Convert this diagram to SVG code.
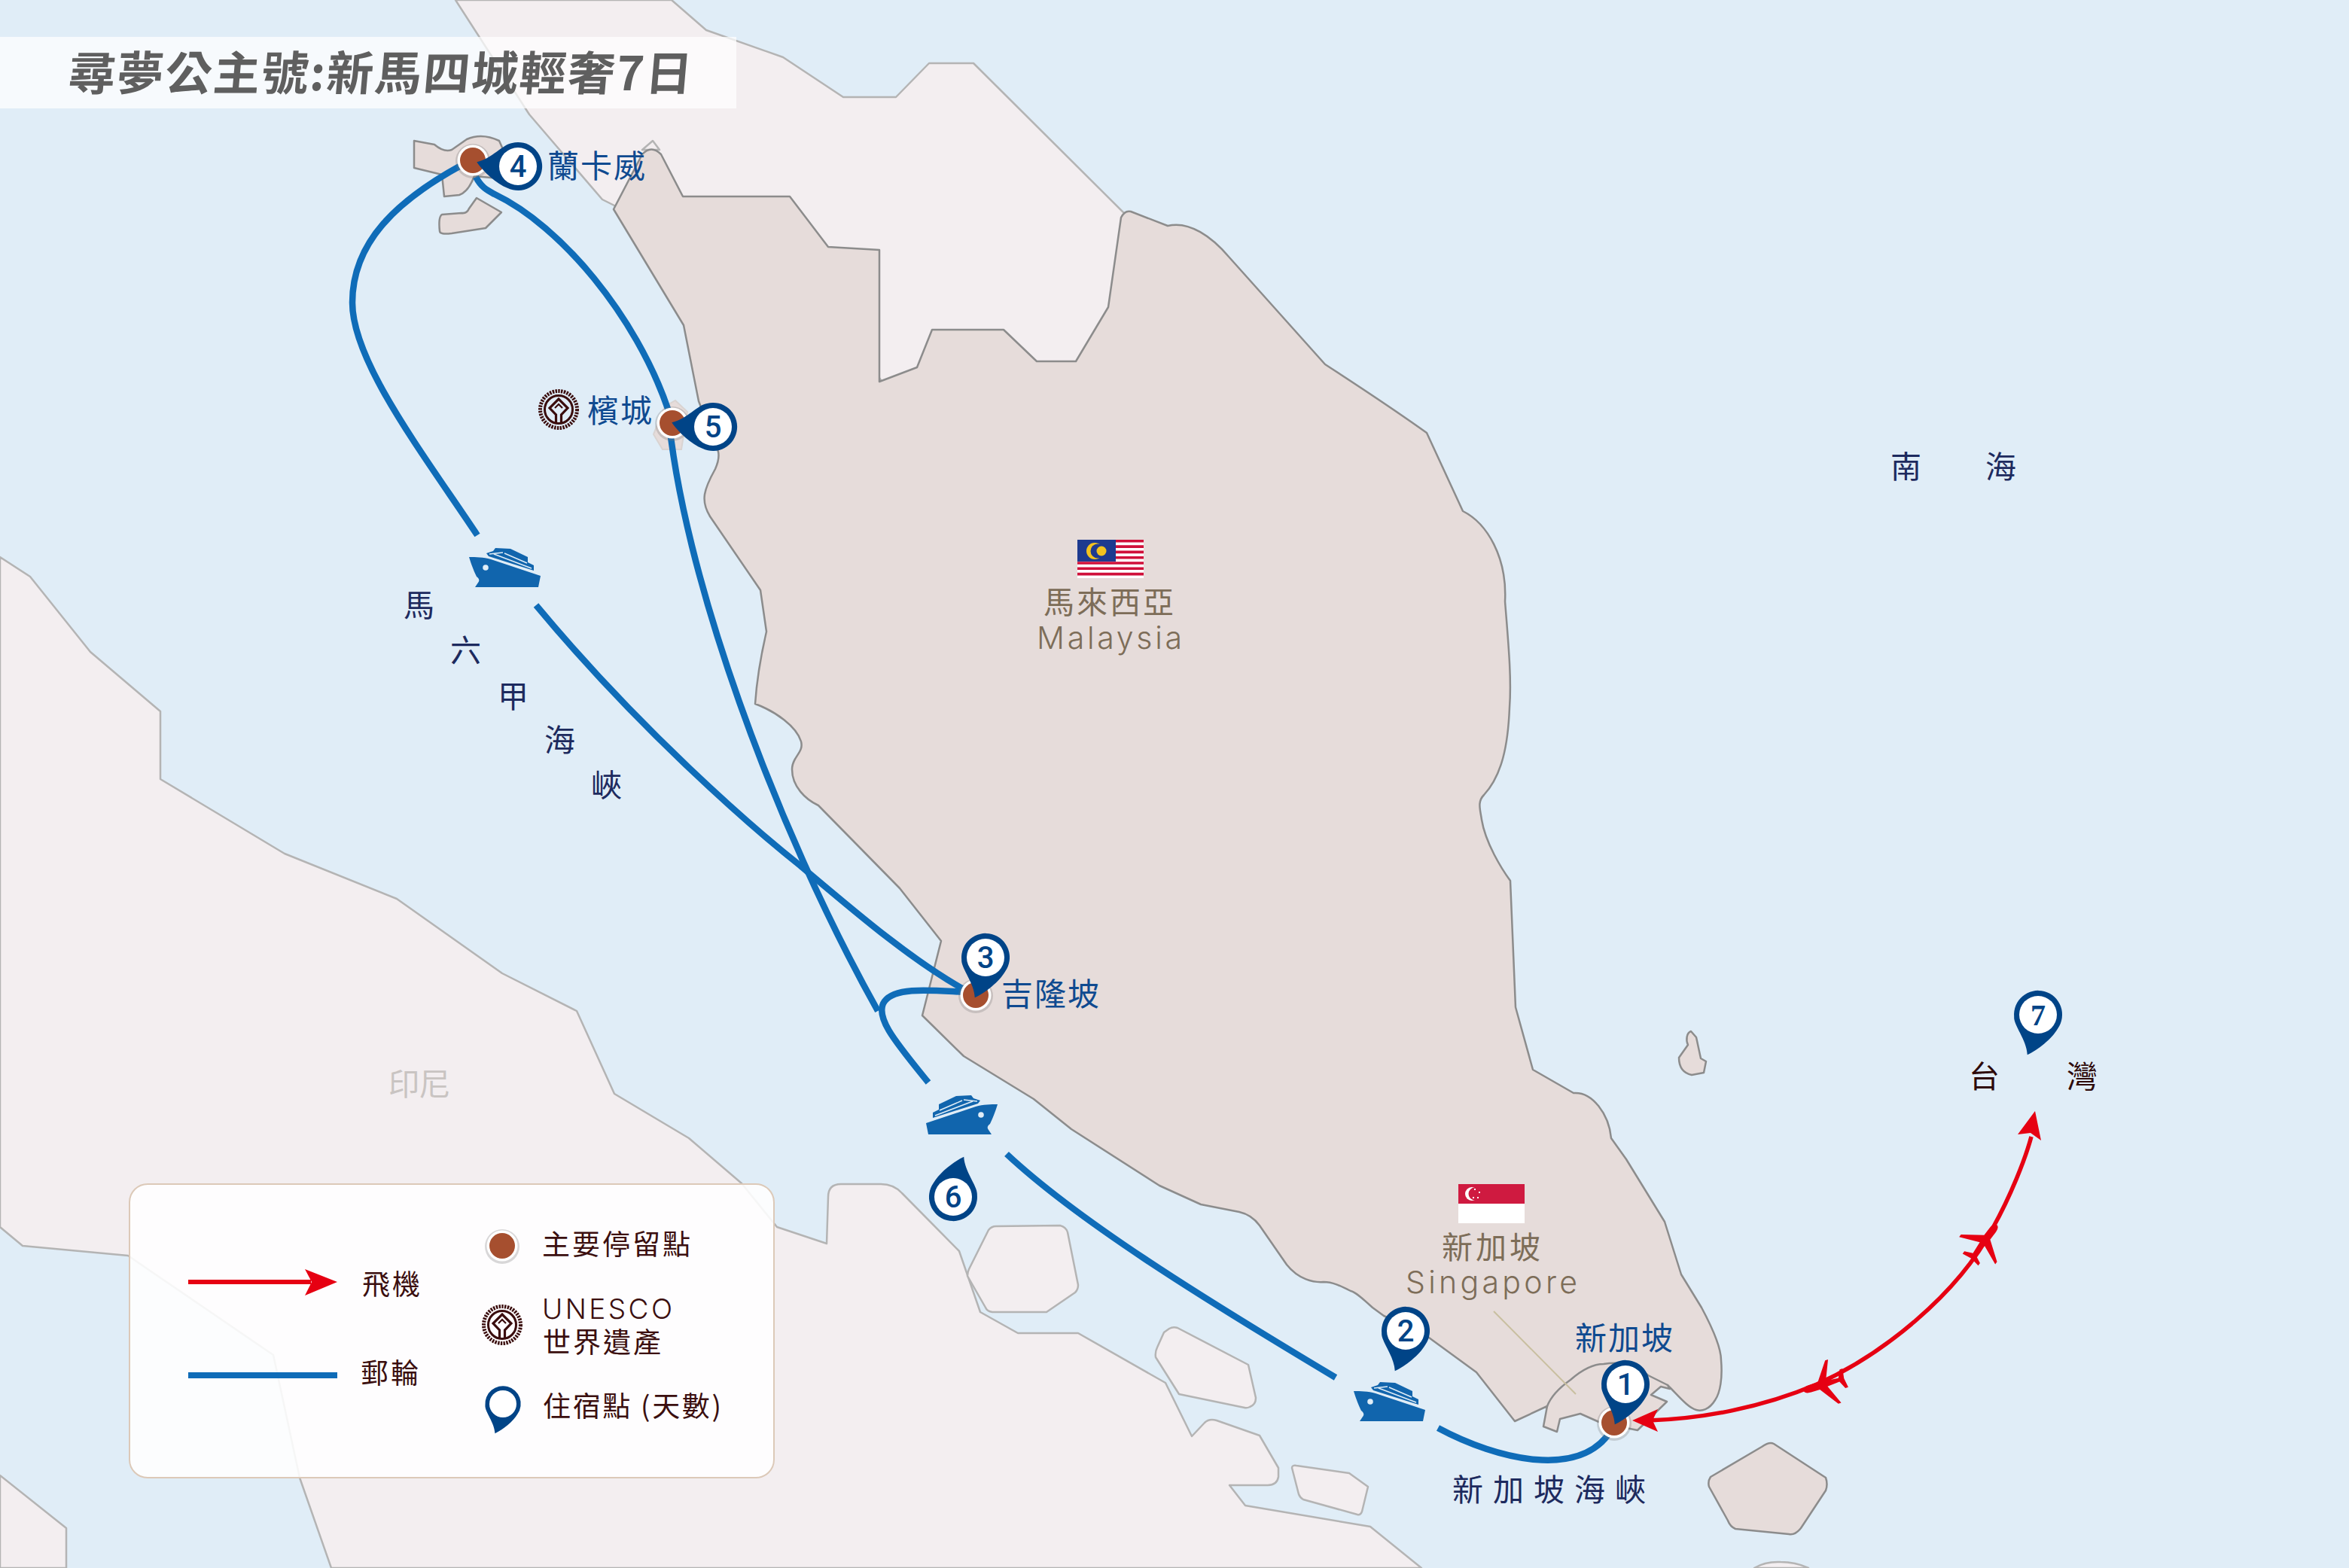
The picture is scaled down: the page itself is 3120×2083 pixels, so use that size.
<svg xmlns="http://www.w3.org/2000/svg" width="3120" height="2083" viewBox="0 0 3120 2083">
<style>
text{font-family:"Noto Sans CJK TC","Noto Sans",sans-serif}
.land{fill:#f3eef0;stroke:#b4b4b4;stroke-width:2.5;stroke-linejoin:round}
.main{fill:#e6dcda;stroke:#8c8c8c;stroke-width:2.5;stroke-linejoin:round}
.route{fill:none;stroke:#0f6cb8;stroke-width:8.5}
.air{fill:none;stroke:#e60012;stroke-width:5.5}
.red{fill:#e60012}
.city{fill:#0f4a90;font-size:42px;letter-spacing:2px}
.sea{fill:#1d2a5e;font-size:41px}
.nation{fill:#7d6d58;font-size:41px}
.latin{font-family:"Inter","Noto Sans",sans-serif;font-weight:300}
.leg{fill:#3b0f0f;font-size:37px;letter-spacing:3px}
.num{fill:#004487;font-family:"Roboto","Liberation Sans",sans-serif;font-size:40px;font-weight:500;text-anchor:middle}
</style>
<defs>
<g id="pin"><path fill="#004487" d="M0,55C-6,36 -28,22 -30,11A32,32 0 1 1 30,11C26,26 12,45 0,55Z"/></g>
<g id="dot"><circle r="23" cy="1" fill="#777" opacity=".28"/><circle r="20.5" fill="#fff"/><circle r="17" fill="#a64f2f"/></g>
<g id="plane"><path class="red" d="M15,0C15,-4 10,-5 6,-5L-6,-5L-24,-30L-28,-30L-17,-4L-34,-2.5L-39,-13L-43,-13L-41,0L-43,13L-39,13L-34,2.5L-17,4L-28,30L-24,30L-6,5L6,5C10,5 15,4 15,0Z"/></g>
<g id="ship"><path fill="#1165ad" d="M0,37L66,15C76,12 86,12 95,12C92,22 88,32 85,38C81,41 81,44 83,46L87,52L3,52Z"/><path fill="#1165ad" d="M9,30L9,23L17,19L17,12L40,1L60,0L63,4L72,7L69,11Z"/><path fill="none" stroke="#e0edf7" stroke-width="1.5" d="M18,20L48,7M12,27L62,8M50,6L68,8"/><circle cx="73" cy="26" r="3.8" fill="#e0edf7"/></g>
<g id="unesco" fill="none" stroke="#3a0d0d"><circle r="24.5" stroke-width="5" stroke-dasharray="2.4 1.4"/><circle r="18.5" stroke-width="3"/><path stroke-width="3.2" d="M-3.5,18V7L-12,-2L0,-14L12,-2L3.5,7V18"/><path stroke-width="2.2" d="M-5,-2L0,-7L5,-2"/></g>
</defs>
<rect id="sea" width="3120" height="2083" fill="#e0edf7"/>
<g id="lands">
<path class="land" d="M605,0L703,152L800,265L816,273L900,350L1100,400L1200,550L1450,550L1530,330L1510,300L1293,84L1234,84L1190,129L1120,129L1040,76L938,40L892,0Z"/>
<path class="land" d="M853,199L867,187L876,199Z"/>
<path class="land" d="M0,740L40,766L120,866L213,945L213,1035L378,1134L527,1194L667,1293L766,1343L816,1453L915,1512L985,1572L1032,1630L1098,1652L1100,1590Q1100,1573 1117,1573L1170,1573Q1187,1573 1198,1585L1274,1662L1302,1743L1352,1771L1432,1771L1548,1837L1583,1908L1600,1890Q1606,1884 1616,1887L1673,1907L1698,1950V1962Q1696,1973 1684,1973L1633,1973L1654,2000L1820,2028L1888,2083L440,2083L398,1963L363,1800L205,1692L170,1668L30,1655L0,1630Z"/>
<path class="land" d="M0,1960L88,2030V2083H0Z"/>
<path class="land" d="M1323,1629L1408,1628Q1416,1630 1418,1637L1432,1707Q1432,1713 1428,1717L1390,1743L1318,1743Q1311,1742 1309,1737L1285,1695Q1285,1690 1287,1686L1313,1634Q1317,1629 1323,1629Z"/>
<path class="land" d="M1553,1765Q1558,1762 1564,1764L1658,1813L1668,1857Q1668,1866 1660,1869Q1656,1871 1653,1870L1566,1852L1535,1803Q1534,1796 1537,1790L1546,1770Z"/>
<path class="land" d="M1716,1950Q1716,1946 1722,1947L1792,1957L1817,1975L1809,2008Q1807,2013 1803,2012L1731,1992Q1727,1990 1725,1985Z"/>
<path class="land" d="M2330,2083Q2345,2074 2365,2075Q2385,2075 2402,2083Z"/>
<path class="main" d="M815,278L853,205Q865,192 878,205L907,261L1049,261L1100,328L1168,332L1168,507L1218,488L1238,438L1333,438L1377,480L1429,480L1472,408L1489,289Q1494,279 1502,281L1551,300C1580,293 1610,315 1632,341L1760,484C1800,510 1860,550 1895,575L1943,679C1975,695 2002,740 1999,799C2003,850 2008,900 2005,940C2003,990 1995,1030 1971,1056C1962,1065 1966,1075 1968,1089C1973,1120 1995,1155 2006,1170L2013,1338L2036,1421L2090,1452C2115,1450 2137,1480 2140,1512L2160,1540L2211,1623L2233,1693L2260,1737C2275,1765 2286,1790 2286,1807C2288,1830 2285,1850 2278,1860C2270,1873 2260,1875 2253,1873C2242,1870 2230,1855 2215,1840L2218,1845L2206,1842L2193,1853L2214,1862L2175,1900L2126,1890L2099,1878L2072,1885L2068,1902L2050,1895L2055,1868L2012,1888L1961,1823L1898,1777L1838,1748L1823,1737C1810,1725 1800,1716 1794,1715C1780,1708 1770,1703 1758,1703C1745,1704 1725,1700 1709,1680L1673,1628C1665,1617 1655,1612 1646,1610L1595,1600L1540,1575L1423,1500L1373,1460L1280,1403L1225,1349L1250,1250L1195,1180L1087,1070C1070,1062 1052,1045 1052,1022C1052,1005 1068,1000 1064,985C1058,965 1030,945 1003,935C1005,905 1012,865 1018,839L1010,784L943,686C930,665 935,650 950,623C955,612 955,605 954,600L928,533L908,432L815,278Z"/>
<path class="main" style="fill:none" d="M2055,1868Q2062,1850 2086,1833Q2110,1812 2130,1812Q2165,1806 2189,1827L2215,1840"/>
<path class="main" d="M550,187L577,192Q590,203 600,199L620,185Q640,176 663,187L680,225L663,237L630,234Q622,255 610,259L590,261L587,232L550,223Z"/>
<path class="main" d="M633,263L666,282L645,303L600,310Q584,312 584,307Q582,288 587,285L613,283Q620,284 623,277Z"/>
<path d="M897,532L913,547L905,597L880,597L868,577L883,540Z" fill="#e6dcda" stroke="#d9d4d2" stroke-width="2"/>
<path class="main" d="M2246,1370C2240,1372 2239,1382 2242,1388L2230,1405C2230,1415 2233,1425 2247,1428L2263,1425L2266,1410L2259,1406L2253,1378Z"/>
<path class="main" d="M2356,1918L2425,1963Q2428,1972 2425,1980L2392,2030Q2384,2040 2376,2038L2305,2031Q2298,2028 2295,2020L2270,1975Q2268,1968 2272,1962L2340,1922Q2350,1915 2356,1918Z"/>
</g>
<path id="leader" d="M1984,1742L2093,1852" fill="none" stroke="#c9bfa0" stroke-width="2"/>
<rect id="title-bar" x="0" y="49" width="978" height="95" fill="#fff" opacity=".72"/>
<text id="title" x="100" y="120" font-size="62" font-weight="700" fill="#5f5f5f" textLength="828" lengthAdjust="spacing" transform="skewX(-5)">尋夢公主號:新馬四城輕奢7日</text>
<g id="connectors">
<path class="route" d="M634,711C560,600 468,480 468,402C468,320 530,265 612,220"/>
<path class="route" d="M712,804C850,970 1000,1100 1063,1150C1140,1215 1210,1275 1283,1316"/>
<path class="route" d="M632,235C640,250 648,253 657,258C745,300 845,420 887,543C905,760 1030,1100 1166,1343"/>
<path class="route" d="M1283,1318C1240,1316 1190,1310 1175,1330C1160,1350 1190,1385 1233,1438"/>
<path class="route" d="M1337,1533C1430,1620 1590,1720 1774,1830"/>
<path class="route" d="M1910,1897C1990,1940 2100,1965 2140,1900"/>
<path class="air" d="M2190,1887C2260,1885 2340,1870 2413,1839C2500,1800 2600,1720 2647,1631C2670,1590 2690,1540 2698,1510"/>
<path class="red" d="M2168,1887L2202,1872L2195,1887L2202,1902Z"/>
<path class="red" d="M2703,1476L2711,1515L2697,1505L2680,1507Z"/>
<use href="#plane" transform="translate(2643,1639) rotate(-53)"/>
<use href="#plane" transform="translate(2410,1843) rotate(163)"/>
</g>
<g id="ship-1"><use href="#ship" transform="translate(718,728) scale(-1,1)"/></g>
<g id="ship-2"><use href="#ship" transform="translate(1230,1455)"/></g>
<g id="ship-3"><use href="#ship" transform="translate(1893,1836) scale(-1,1)"/></g>
<g id="flag-my">
<rect x="1431" y="717" width="88" height="51" fill="#fff"/>
<path fill="#d0103a" d="M1431,717h88v3.600h-88zM1431,724.300h88v3.600h-88zM1431,731.600h88v3.600h-88zM1431,738.900h88v3.600h-88zM1431,746.200h88v3.600h-88zM1431,753.500h88v3.600h-88zM1431,760.800h88v3.600h-88z"/>
<rect x="1431" y="717" width="51" height="29" fill="#1d3a8f"/>
<circle cx="1454" cy="732" r="11" fill="#f2c21e"/><circle cx="1458" cy="732" r="9.500" fill="#1d3a8f"/><circle cx="1463" cy="732" r="6.500" fill="#f2c21e"/>
</g>
<g id="flag-sg">
<rect x="1937" y="1573" width="88" height="52" fill="#fff"/><rect x="1937" y="1573" width="88" height="26" fill="#cf1a40"/>
<circle cx="1955" cy="1586" r="9" fill="#fff"/><circle cx="1959" cy="1586" r="8.500" fill="#cf1a40"/>
<path fill="#fff" d="M1958,1579l2,0l0,2l-2,0zM1964,1583l2,0l0,2l-2,0zM1962,1590l2,0l0,2l-2,0zM1956,1590l2,0l0,2l-2,0z"/>
</g>
<g id="labels">
<text class="nation" x="1386" y="815" letter-spacing="3">馬來西亞</text>
<text class="nation latin" x="1377" y="862" textLength="193">Malaysia</text>
<text class="nation" x="1915" y="1672" letter-spacing="4">新加坡</text>
<text class="nation latin" x="1867" y="1718" textLength="228">Singapore</text>
<text class="sea" x="2511" y="635" letter-spacing="85">南海</text>
<text class="sea" x="536 598 661 723 785" y="819 879 940 998 1058">馬六甲海峽</text>
<text class="sea" x="1929" y="1994" letter-spacing="13">新加坡海峽</text>
<text x="516" y="1455" font-size="41" fill="#c9c4c2">印尼</text>
<text x="2615 2745" y="1445" font-size="41" fill="#2e0a0a">台灣</text>
</g>
<g id="stop-1"><use href="#dot" x="2144" y="1890"/></g>
<g id="stop-3"><use href="#dot" x="1296" y="1322"/></g>
<g id="stop-4"><use href="#dot" x="628" y="213"/></g>
<g id="stop-5"><use href="#dot" x="893" y="562"/></g>
<g id="pin-1"><use href="#pin" transform="translate(2159,1839) rotate(15)"/><circle cx="2159" cy="1839" r="25" fill="#fff"/><text class="num" x="2159" y="1853">1</text></g>
<g id="pin-2"><use href="#pin" transform="translate(1867,1768) rotate(15)"/><circle cx="1867" cy="1768" r="25" fill="#fff"/><text class="num" x="1867" y="1782">2</text></g>
<g id="pin-3"><use href="#pin" transform="translate(1309,1272) rotate(15)"/><circle cx="1309" cy="1272" r="25" fill="#fff"/><text class="num" x="1309" y="1286">3</text></g>
<g id="pin-4"><use href="#pin" transform="translate(688,221) rotate(96)"/><circle cx="688" cy="221" r="25" fill="#fff"/><text class="num" x="688" y="235">4</text></g>
<g id="pin-5"><use href="#pin" transform="translate(947,567) rotate(96)"/><circle cx="947" cy="567" r="25" fill="#fff"/><text class="num" x="947" y="581">5</text></g>
<g id="pin-6"><use href="#pin" transform="translate(1266,1590) rotate(195)"/><circle cx="1266" cy="1590" r="25" fill="#fff"/><text class="num" x="1266" y="1604">6</text></g>
<g id="pin-7"><use href="#pin" transform="translate(2707,1348) rotate(15)"/><circle cx="2707" cy="1348" r="25" fill="#fff"/><text class="num" x="2707" y="1362" style="font-family:'Liberation Serif',serif;font-weight:700">7</text></g>
<g id="city-labels">
<text class="city" x="2092" y="1793">新加坡</text>
<text class="city" x="1330" y="1336">吉隆坡</text>
<text class="city" x="727" y="236">蘭卡威</text>
<text class="city" x="780" y="561">檳城</text>
<use href="#unesco" x="742" y="544"/>
</g>
<g id="legend">
<rect x="172" y="1573" width="856" height="390" rx="24" fill="#fff" fill-opacity=".88" stroke="#dcc9b8" stroke-width="2"/>
<path d="M250,1703H413" stroke="#e60012" stroke-width="6"/>
<path class="red" d="M405,1686L448,1703L405,1721L414,1703Z"/>
<path d="M250,1827H448" stroke="#0f6cb8" stroke-width="8"/>
<text class="leg" x="481" y="1720">飛機</text>
<text class="leg" x="479" y="1838">郵輪</text>
<use href="#dot" x="667" y="1655"/>
<text class="leg" x="720" y="1667">主要停留點</text>
<use href="#unesco" x="667" y="1760"/>
<text class="leg latin" x="720" y="1752" textLength="176">UNESCO</text>
<text class="leg" x="721" y="1797">世界遺產</text>
<use href="#pin" transform="translate(668,1865) rotate(15) scale(.74)"/>
<circle cx="668" cy="1865" r="18" fill="#fff"/>
<text class="leg" x="721" y="1882" textLength="240">住宿點 (天數)</text>
</g>
</svg>
